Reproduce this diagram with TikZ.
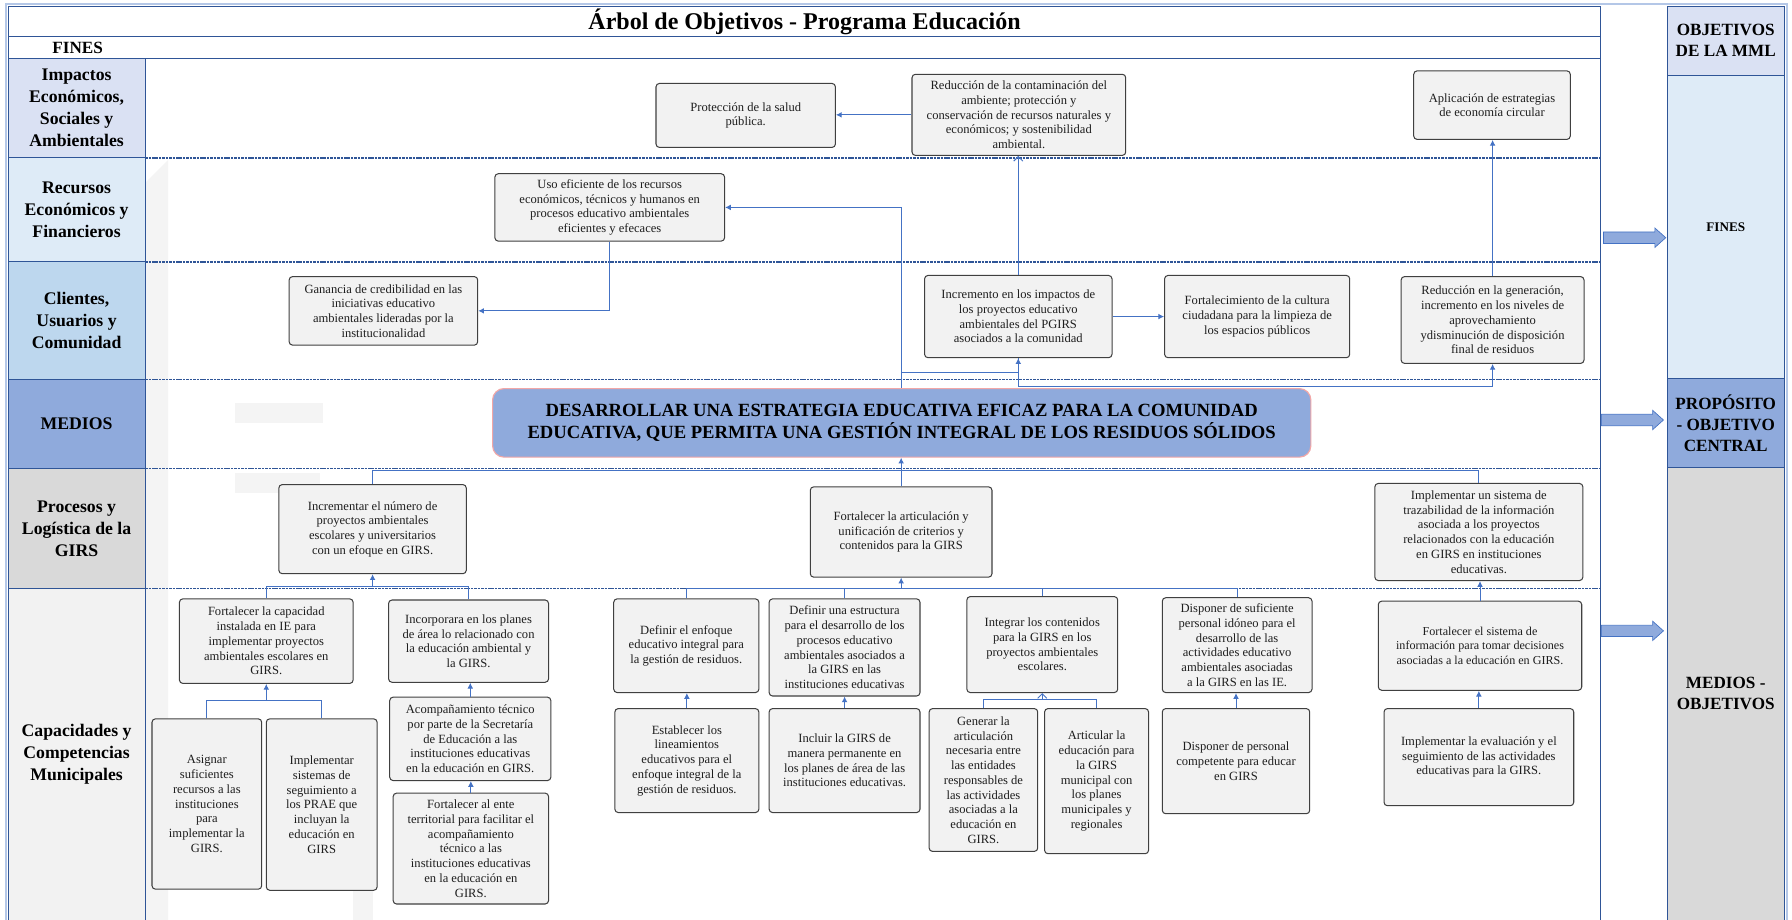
\documentclass[tikz,border=0pt]{standalone}
\usepackage{fontspec}
\setmainfont{Liberation Serif}
\usetikzlibrary{arrows.meta}
\definecolor{dkblue}{HTML}{2F5597}
\definecolor{ltblue}{HTML}{B4C7E7}
\definecolor{conblue}{HTML}{4472C4}
\definecolor{cImp}{HTML}{DAE1F3}
\definecolor{cRec}{HTML}{DEEBF7}
\definecolor{cCli}{HTML}{BDD7EE}
\definecolor{cMed}{HTML}{8FAADC}
\definecolor{cPro}{HTML}{D9D9D9}
\definecolor{cCap}{HTML}{F2F2F2}
\definecolor{boxfill}{HTML}{F2F2F2}
\definecolor{boxedge}{HTML}{404040}
\definecolor{boxtext}{HTML}{1E1E1E}
\definecolor{bigedge}{HTML}{F2A7A7}
\definecolor{wmark}{HTML}{F4F4F4}
\newcommand\obox[6]{\node[box,minimum width={(#4-#2)*1pt},minimum height={(#5-#3)*1pt}] (#1) at ({(#2+#4)/2},{(#3+#5)/2}) {#6};}
\newcommand\barr[3]{\draw[barrow] (#2,#3) ++(0,-5) -- ++(#1,0) -- ++(0,-3.5) -- ++(9.5,8.5) -- ++(-9.5,8.5) -- ++(0,-3.5) -- ++(-#1,0) -- cycle;}
\tikzset{
  box/.style={draw=boxedge, fill=boxfill, line width=0.9pt, rounded corners=3pt, align=center, inner sep=1pt, text=boxtext, font=\fontsize{11}{12.9}\selectfont},
  bigbox/.style={draw=bigedge, fill=cMed, line width=1pt, rounded corners=10pt, align=center, inner sep=1pt, text=black, font=\bfseries\fontsize{16.3}{18.9}\selectfont},
  cell/.style={minimum width=120pt, inner sep=0pt, align=center, font=\bfseries\fontsize{15.5}{19.4}\selectfont},
  rcell/.style={minimum width=102pt, inner sep=0pt, align=center, font=\bfseries\fontsize{15}{18.4}\selectfont},
  grid/.style={draw=dkblue, line width=0.8pt},
  dline/.style={draw=dkblue, line width=1.4pt, dash pattern=on 2.2pt off 0.8pt},
  conn/.style={draw=conblue, line width=0.8pt, -{Latex[length=5pt,width=5pt]}},
  oconn/.style={draw=conblue, line width=0.8pt, -{Straight Barb[length=4pt,width=8pt]}},
  connp/.style={draw=conblue, line width=0.8pt},
  barrow/.style={fill=cMed, draw=conblue, line width=0.6pt}
}
\begin{document}
\begin{tikzpicture}[x=1pt,y=-1pt]
\useasboundingbox (0,0) rectangle (1568,805);
\fill[white] (0,0) rectangle (1568,805);
% faint watermark
\fill[wmark] (127,160) -- (147,140) -- (147,805) -- (127,805) -- cycle;
\fill[wmark] (206,353) rectangle (283,370);
\fill[wmark] (206,414) rectangle (280,431);
\fill[wmark] (309,752) rectangle (326,805);
% left label cells
\node[cell, fill=cImp, minimum height=87pt] (lImp) at (67,94.5) {Impactos\\Económicos,\\Sociales y\\Ambientales};
\node[cell, fill=cRec, minimum height=91pt] (lRec) at (67,183.5) {Recursos\\Económicos y\\Financieros};
\node[cell, fill=cCli, minimum height=103pt] (lCli) at (67,280.5) {Clientes,\\Usuarios y\\Comunidad};
\node[cell, fill=cMed, minimum height=78pt] (lMed) at (67,371) {MEDIOS};
\node[cell, fill=cPro, minimum height=105pt] (lPro) at (67,462.5) {Procesos y\\Logística de la\\GIRS};
\node[cell, fill=cCap, minimum height=290pt] (lCap) at (67,660) {Capacidades y\\Competencias\\Municipales};
% right column
\node[rcell, fill=cImp, minimum height=61pt] (rHead) at (1510,35.5) {OBJETIVOS\\DE LA MML};
\node[rcell, fill=cRec, minimum height=265pt, font=\bfseries\fontsize{11.5}{13}\selectfont] (rFin) at (1510,198.5) {FINES};
\node[rcell, fill=cMed, minimum height=78pt] (rProp) at (1510,370) {PROPÓSITO\\- OBJETIVO\\CENTRAL};
\node[rcell, fill=cPro, minimum height=396pt] (rMed) at (1510,607) {MEDIOS -\\OBJETIVOS};
% frame
\draw[ltblue, line width=2pt] (5,3.5) rectangle (1563.5,830);
\draw[grid] (7.5,5.5) -- (1400,5.5) -- (1400,830);
\draw[grid] (7.5,5.5) -- (7.5,830);
\draw[grid] (7.5,32) -- (1400,32);
\draw[grid] (7.5,51) -- (1400,51);
\draw[grid] (127,51) -- (127,830);
\foreach \yy in {138,229,332,410,515}{
  \draw[grid] (7.5,\yy) -- (127,\yy);
  \draw[dline] (127,\yy) -- (1400,\yy);
}
\draw[grid] (1459,5.5) rectangle (1561,830);
\foreach \yy in {66,331,409}{\draw[grid] (1459,\yy) -- (1561,\yy);}
% titles
\node[font=\bfseries\fontsize{21}{24}\selectfont] (title) at (704,19) {Árbol de Objetivos - Programa Educación};
\node[font=\bfseries\fontsize{15}{18}\selectfont] (fines) at (68,42) {FINES};
% block arrows
\barr{45}{1403}{208}
\barr{45}{1401}{367.5}
\barr{45}{1401}{552}
% boxes
\obox{prot}{574}{73}{731}{129}{Protección de la salud\\pública.}
\obox{redc}{798}{65}{985}{136}{Reducción de la contaminación del\\ambiente; protección y\\conservación de recursos naturales y\\económicos; y sostenibilidad\\ambiental.}
\obox{apl}{1237}{62}{1374}{122}{Aplicación de estrategias\\de economía circular}
\obox{uso}{433}{152}{634}{211}{Uso eficiente de los recursos\\económicos, técnicos y humanos en\\procesos educativo ambientales\\eficientes y efecaces}
\obox{gan}{253}{242}{418}{302}{Ganancia de credibilidad en las\\iniciativas educativo\\ambientales lideradas por la\\institucionalidad}
\obox{inc}{809}{241}{973}{313}{Incremento en los impactos de\\los proyectos educativo\\ambientales del PGIRS\\asociados a la comunidad}
\obox{fort}{1019}{241}{1181}{313}{Fortalecimiento de la cultura\\ciudadana para la limpieza de\\los espacios públicos}
\obox{redg}{1226}{242}{1386}{318}{Reducción en la generación,\\incremento en los niveles de\\aprovechamiento\\ydisminución de disposición\\final de residuos}
\node[bigbox, minimum width=716pt, minimum height=60pt] (big) at (789,370) {DESARROLLAR UNA ESTRATEGIA EDUCATIVA EFICAZ PARA LA COMUNIDAD\\EDUCATIVA, QUE PERMITA UNA GESTIÓN INTEGRAL DE LOS RESIDUOS SÓLIDOS};
\obox{incr}{244}{424}{408}{502}{Incrementar el número de\\proyectos ambientales\\escolares y universitarios\\con un efoque en GIRS.}
\obox{artic}{709}{426}{868}{505}{Fortalecer la articulación y\\unificación de criterios y\\contenidos para la GIRS}
\obox{impl}{1203}{423}{1385}{508}{Implementar un sistema de\\trazabilidad de la información\\asociada a los proyectos\\relacionados con la educación\\en GIRS en instituciones\\educativas.}
\obox{fcap}{157}{524}{309}{598}{Fortalecer la capacidad\\instalada en IE para\\implementar proyectos\\ambientales escolares en\\GIRS.}
\obox{incor}{340}{525}{480}{597}{Incorporara en los planes\\de área lo relacionado con\\la educación ambiental y\\la GIRS.}
\obox{asig}{133}{629}{229}{778}{Asignar\\suficientes\\recursos a las\\instituciones\\para\\implementar la\\GIRS.}
\obox{seg}{233}{629}{330}{779}{Implementar\\sistemas de\\seguimiento a\\los PRAE que\\incluyan la\\educación en\\GIRS}
\obox{acomp}{341}{610}{482}{683}{Acompañamiento técnico\\por parte de la Secretaría\\de Educación a las\\instituciones educativas\\en la educación en GIRS.}
\obox{ente}{344}{694}{480}{791}{Fortalecer al ente\\territorial para facilitar el\\acompañamiento\\técnico a las\\instituciones educativas\\en la educación en\\GIRS.}
\obox{denf}{537}{524}{664}{606}{Definir el enfoque\\educativo integral para\\la gestión de residuos.}
\obox{dest}{673}{524}{805}{609}{Definir una estructura\\para el desarrollo de los\\procesos educativo\\ambientales asociados a\\la GIRS en las\\instituciones educativas}
\obox{integ}{846}{522}{978}{606}{Integrar los contenidos\\para la GIRS en los\\proyectos ambientales\\escolares.}
\obox{dispo}{1017}{523}{1148}{606}{Disponer de suficiente\\personal idóneo para el\\desarrollo de las\\actividades educativo\\ambientales asociadas\\a la GIRS en las IE.}
\obox{estab}{538}{620}{664}{711}{Establecer los\\lineamientos\\educativos para el\\enfoque integral de la\\gestión de residuos.}
\obox{incl}{673}{620}{805}{711}{Incluir la GIRS de\\manera permanente en\\los planes de área de las\\instituciones educativas.}
\obox{gener}{813}{620}{908}{745}{Generar la\\articulación\\necesaria entre\\las entidades\\responsables de\\las actividades\\asociadas a la\\educación en\\GIRS.}
\obox{artmun}{914}{620}{1005}{747}{Articular la\\educación para\\la GIRS\\municipal con\\los planes\\municipales y\\regionales}
\obox{dispc}{1017}{620}{1146}{712}{Disponer de personal\\competente para educar\\en GIRS}
\node[box, font=\fontsize{10.6}{12.9}\selectfont, minimum width=178pt, minimum height=78pt] (fsis) at (1295,565) {Fortalecer el sistema de\\información para tomar decisiones\\asociadas a la educación en GIRS.};
\obox{ieval}{1211}{620}{1377}{705}{Implementar la evaluación y el\\seguimiento de las actividades\\educativas para la GIRS.}
% connectors: fines
\draw[conn] (redc.west) -- (redc.west -| prot.east);
\draw[oconn] (inc.north) -- (inc.north |- redc.south);
\draw[conn] (redg.north) -- (redg.north |- apl.south);
\draw[conn] (big.north) |- (uso.east);
\draw[conn] (uso.south) |- (gan.east);
\draw[conn] (inc.east) -- (inc.east -| fort.west);
\draw[conn] (big.north) ++(0,-14) -| (inc.south);
\draw[connp] (inc.south) -- ++(0,25);
\draw[conn] (inc.south) ++(0,25) -| (redg.south);
% connectors: medios
\draw[conn] (artic.north) -- (artic.north |- big.south);
\draw[connp] (incr.north) -- ++(0,-12) -| (impl.north);
\draw[connp] (fcap.north) -- ++(0,-10) -| (incor.north);
\draw[conn] (fcap.north) ++(0,-10) -| (incr.south);
\draw[connp] (asig.north) -- ++(0,-16) -| (seg.north);
\draw[conn] (asig.north) ++(0,-16) -| (fcap.south);
\draw[conn] (acomp.north) -- (acomp.north |- incor.south);
\draw[conn] (ente.north) -- (ente.north |- acomp.south);
\draw[connp] (denf.north) -- ++(0,-9) -| (dispo.north);
\draw[connp] (dest.north) -- ++(0,-9);
\draw[connp] (integ.north) -- ++(0,-7);
\draw[conn] (denf.north) ++(0,-9) -| (artic.south);
\draw[conn] (estab.north) -- (estab.north |- denf.south);
\draw[conn] (incl.north) -- (incl.north |- dest.south);
\draw[connp] (gener.north) -- ++(0,-7.5) -| (artmun.north);
\draw[oconn] (gener.north) ++(0,-7.5) -| (integ.south);
\draw[conn] (dispc.north) -- (dispc.north |- dispo.south);
\draw[conn] (fsis.north) -- (fsis.north |- impl.south);
\draw[conn] (ieval.north) -- (ieval.north |- fsis.south);
\end{tikzpicture}
\end{document}
